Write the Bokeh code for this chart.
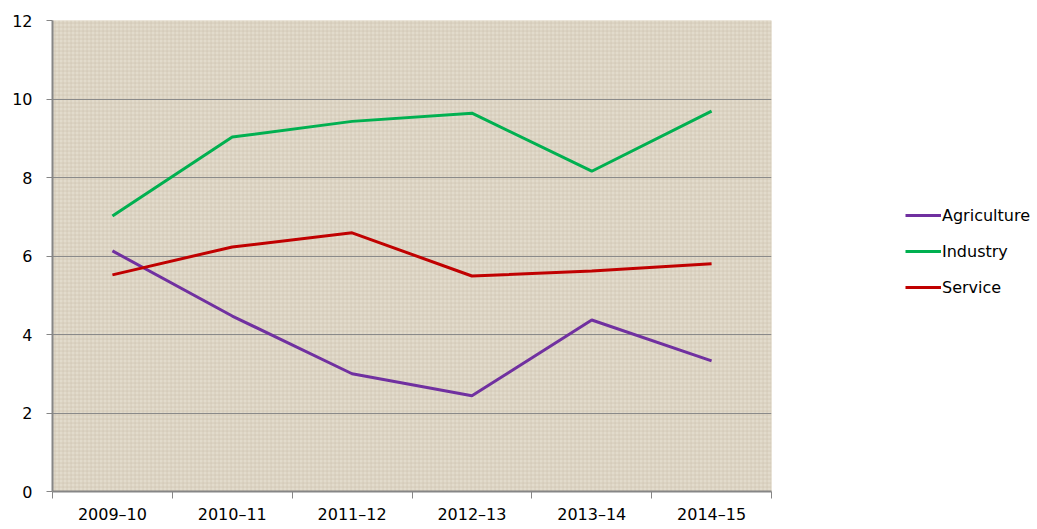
from bokeh.plotting import figure
from bokeh.models import FixedTicker, Range1d, Legend, LegendItem, BoxAnnotation
from bokeh.layouts import row
from bokeh.embed import file_html
from bokeh.resources import INLINE

years = ["2009\u201310", "2010\u201311", "2011\u201312", "2012\u201313", "2013\u201314", "2014\u201315"]
agriculture = [6.13, 4.47, 3.0, 2.44, 4.37, 3.33]
industry = [7.02, 9.03, 9.43, 9.64, 8.16, 9.69]
service = [5.52, 6.23, 6.59, 5.49, 5.62, 5.80]
series_names = ["Agriculture", "Industry", "Service"]
colors = ["#7030a0", "#00b050", "#c00000"]

xs = [i + 0.5 for i in range(len(years))]
H = 526

p = figure(width=779, height=H, output_backend="svg", toolbar_location=None,
           x_range=Range1d(0, 6), y_range=Range1d(0, 12),
           min_border_left=52, min_border_right=8, min_border_top=20, min_border_bottom=29)
p.background_fill_color = "#ddd5c4"
p.border_fill_color = "white"
p.outline_line_color = None

# linen-like texture behind the grid
p.add_layout(BoxAnnotation(level="image", fill_color="#e2dbcc", fill_alpha=1.0,
                           line_color=None, hatch_pattern="+", hatch_color="#cbc2ae",
                           hatch_scale=4, hatch_weight=1, hatch_alpha=0.6))

font = "DejaVu Sans"
p.xaxis.ticker = FixedTicker(ticks=xs, minor_ticks=list(range(7)))
p.xaxis.major_label_overrides = {x: y for x, y in zip(xs, years)}
p.xaxis.major_tick_out = 0
p.xaxis.major_tick_in = 0
p.xaxis.minor_tick_out = 7
p.xaxis.minor_tick_in = 0
p.xaxis.minor_tick_line_color = "#868686"
p.xaxis.axis_line_color = "#868686"
p.xaxis.axis_line_width = 2
p.xaxis.major_label_standoff = 6
p.yaxis.ticker = FixedTicker(ticks=[0, 2, 4, 6, 8, 10, 12])
p.yaxis.major_tick_out = 6
p.yaxis.major_tick_in = 0
p.yaxis.minor_tick_line_color = None
p.yaxis.axis_line_color = "#868686"
p.yaxis.axis_line_width = 2
p.yaxis.major_tick_line_color = "#868686"
p.yaxis.major_label_standoff = 14
for ax in (p.xaxis, p.yaxis):
    ax.major_label_text_font = font
    ax.major_label_text_font_size = "16px"
    ax.major_label_text_color = "black"

p.xgrid.grid_line_color = None
p.ygrid.ticker = FixedTicker(ticks=[2, 4, 6, 8, 10, 12])
p.ygrid.grid_line_color = "#8a8a8a"
p.ygrid.grid_line_width = 1

data = [agriculture, industry, service]
for ys, c in zip(data, colors):
    p.line(xs, ys, line_color=c, line_width=3)

# legend panel
q = figure(width=258, height=H, output_backend="svg", toolbar_location=None,
           x_range=Range1d(0, 1), y_range=Range1d(0, 1),
           min_border=0)
q.axis.visible = False
q.grid.visible = False
q.outline_line_color = None
q.background_fill_color = "white"
items = []
for name, c, ys in zip(series_names, colors, data):
    r = q.line(xs, ys, line_color=c, line_width=3)  # outside the legend panel's range
    items.append(LegendItem(label=name, renderers=[r]))
legend = Legend(items=items, location=(126, 194))
legend.label_text_font = font
legend.label_text_font_size = "16px"
legend.label_text_color = "black"
legend.glyph_width = 36
legend.glyph_height = 20
legend.label_standoff = 1
legend.spacing = 16
legend.border_line_color = None
legend.background_fill_alpha = 0
legend.padding = 0
legend.margin = 0
q.add_layout(legend, "center")

layout = row(p, q, spacing=0)
open("out.html", "w").write(file_html(layout, INLINE))
